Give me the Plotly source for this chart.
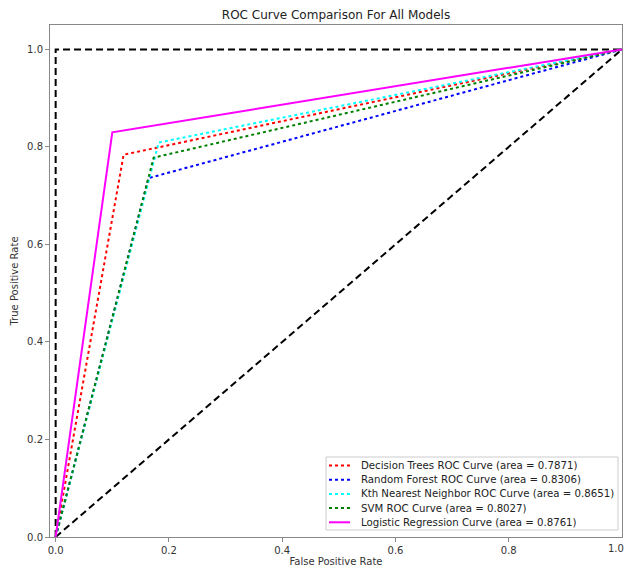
import plotly.graph_objects as go

labels = [
    "Decision Trees ROC Curve (area = 0.7871)",
    "Random Forest ROC Curve (area = 0.8306)",
    "Kth Nearest Neighbor ROC Curve (area = 0.8651)",
    "SVM ROC Curve (area = 0.8027)",
    "Logistic Regression Curve (area = 0.8761)",
]
colors = ["red", "blue", "cyan", "green", "magenta"]
dashes = ["dot", "dot", "dot", "dot", "solid"]
fpr = [
    [0.0, 0.120, 1.0],
    [0.0, 0.164, 1.0],
    [0.0, 0.182, 1.0],
    [0.0, 0.173, 1.0],
    [0.0, 0.100, 1.0],
]
tpr = [
    [0.0, 0.784, 1.0],
    [0.0, 0.736, 1.0],
    [0.0, 0.809, 1.0],
    [0.0, 0.778, 1.0],
    [0.0, 0.830, 1.0],
]
perfect_x = [0.0, 0.0, 1.0]
perfect_y = [0.0, 1.0, 1.0]
diag_x = [0.0, 1.0]
diag_y = [0.0, 1.0]
tick_vals = [0, 0.2, 0.4, 0.6, 0.8, 1.0]
tick_text = ["0.0", "0.2", "0.4", "0.6", "0.8", "1.0"]

W, H = 626, 567
ML, MR, MT, MB = 50, 4, 25, 30
PW, PH = W - ML - MR, H - MT - MB

def px_x(p):
    return (p - ML) / PW

def px_y(p):
    return (H - MB - p) / PH

fig = go.Figure()
fig.add_trace(go.Scatter(x=perfect_x, y=perfect_y, mode="lines", showlegend=False,
                         line=dict(color="black", width=2, dash="7px,4px")))
fig.add_trace(go.Scatter(x=diag_x, y=diag_y, mode="lines", showlegend=False,
                         line=dict(color="black", width=2, dash="7px,4px")))
for i in range(len(labels)):
    fig.add_trace(go.Scatter(x=fpr[i], y=tpr[i], mode="lines", name=labels[i],
                             showlegend=False,
                             line=dict(color=colors[i], width=2, dash=dashes[i])))

# manual legend (compact, matplotlib-like)
shapes = [dict(type="rect", xref="paper", yref="paper",
               x0=px_x(326), x1=px_x(618), y0=px_y(530), y1=px_y(457),
               line=dict(color="#cccccc", width=1), fillcolor="rgba(255,255,255,0.85)",
               layer="above")]
annotations = []
row_y0, row_dy = 465.5, 14.2
for i, lab in enumerate(labels):
    yy = px_y(row_y0 + i * row_dy)
    shapes.append(dict(type="line", xref="paper", yref="paper",
                       x0=px_x(329), x1=px_x(350), y0=yy, y1=yy, layer="above",
                       line=dict(color=colors[i], width=2, dash=dashes[i])))
    annotations.append(dict(xref="paper", yref="paper", x=px_x(359), y=yy,
                            xanchor="left", yanchor="middle", text=lab, showarrow=False,
                            font=dict(size=10.2, color="#222222")))

# last x tick label, nudged left so it stays fully inside the page
annotations.append(dict(xref="x", x=tick_vals[-1], yref="paper", y=0, yanchor="top",
                        xanchor="center", yshift=-4, xshift=-6, text=tick_text[-1],
                        showarrow=False, font=dict(size=10, color="#333333")))

fig.update_layout(
    width=W, height=H,
    margin=dict(l=ML, r=MR, t=MT, b=MB),
    paper_bgcolor="white", plot_bgcolor="white",
    font=dict(family="DejaVu Sans", size=10, color="#333333"),
    title=dict(text="ROC Curve Comparison For All Models", xref="paper", x=0.5,
               xanchor="center", yref="paper", y=1, yanchor="bottom",
               pad=dict(b=6), font=dict(size=12, color="#222222")),
    showlegend=False,
    shapes=shapes,
    annotations=annotations,
)
fig.update_xaxes(range=[-0.01, 1.0], tickvals=tick_vals[:-1], ticktext=tick_text[:-1],
                 showgrid=False, zeroline=False, showline=True, linecolor="#888888",
                 mirror=True, ticks="outside", ticklen=4, tickcolor="#888888",
                 automargin=False,
                 title=dict(text="False Positive Rate", standoff=3, font=dict(size=10)))
fig.update_yaxes(range=[0.0, 1.05], tickvals=tick_vals, ticktext=tick_text,
                 showgrid=False, zeroline=False, showline=True, linecolor="#888888",
                 mirror=True, ticks="outside", ticklen=4, tickcolor="#888888",
                 automargin=False,
                 title=dict(text="True Positive Rate", standoff=6, font=dict(size=10)))

fig.write_html("out.html", config={"displayModeBar": False},
               post_script="document.body.style.margin='0';document.body.style.overflow='hidden';")
